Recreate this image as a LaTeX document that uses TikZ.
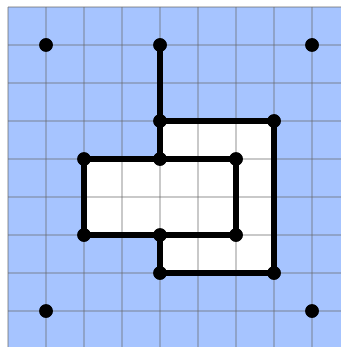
\documentclass[tikz,border=0pt]{standalone}
\definecolor{bgblue}{RGB}{166,196,255}
\tikzset{
  dot/.style={circle,fill=black,inner sep=0pt,minimum size=0.27cm},
  edge/.style={line width=0.11cm,black,line cap=round,line join=round},
  gridline/.style={line width=0.05cm,gray!80!black,opacity=0.35}
}
\begin{document}
\begin{tikzpicture}[x=0.76cm,y=-0.76cm]
\useasboundingbox (-0.2105,-0.1842) rectangle (8.763,8.947);
\fill[bgblue] (0,0) rectangle (8.763,8.947);
\fill[white] (4,3) -- (7,3) -- (7,7) -- (4,7) -- (4,6) -- (2,6) -- (2,4) -- (4,4) -- cycle;
\foreach \i in {0,...,8} {
  \draw[gridline] (\i,0) -- (\i,8.947);
  \draw[gridline] (0,\i) -- (8.763,\i);
}
\node[dot] (tl) at (1,1) {};
\node[dot] (tr) at (8,1) {};
\node[dot] (bl) at (1,8) {};
\node[dot] (br) at (8,8) {};
\node[dot] (a) at (4,1) {};
\node[dot] (b) at (4,3) {};
\node[dot] (c) at (7,3) {};
\node[dot] (d) at (7,7) {};
\node[dot] (e) at (4,7) {};
\node[dot] (f) at (4,6) {};
\node[dot] (g) at (2,6) {};
\node[dot] (h) at (6,6) {};
\node[dot] (i) at (2,4) {};
\node[dot] (j) at (4,4) {};
\node[dot] (k) at (6,4) {};
\draw[edge] (a.center) -- (b.center);
\draw[edge] (b.center) -- (c.center);
\draw[edge] (c.center) -- (d.center);
\draw[edge] (d.center) -- (e.center);
\draw[edge] (e.center) -- (f.center);
\draw[edge] (g.center) -- (f.center);
\draw[edge] (f.center) -- (h.center);
\draw[edge] (g.center) -- (i.center);
\draw[edge] (i.center) -- (j.center);
\draw[edge] (j.center) -- (k.center);
\draw[edge] (k.center) -- (h.center);
\draw[edge] (b.center) -- (j.center);
\foreach \n in {tl,tr,bl,br,a,b,c,d,e,f,g,h,i,j,k} \fill (\n) circle (0.135cm);
\end{tikzpicture}
\end{document}
